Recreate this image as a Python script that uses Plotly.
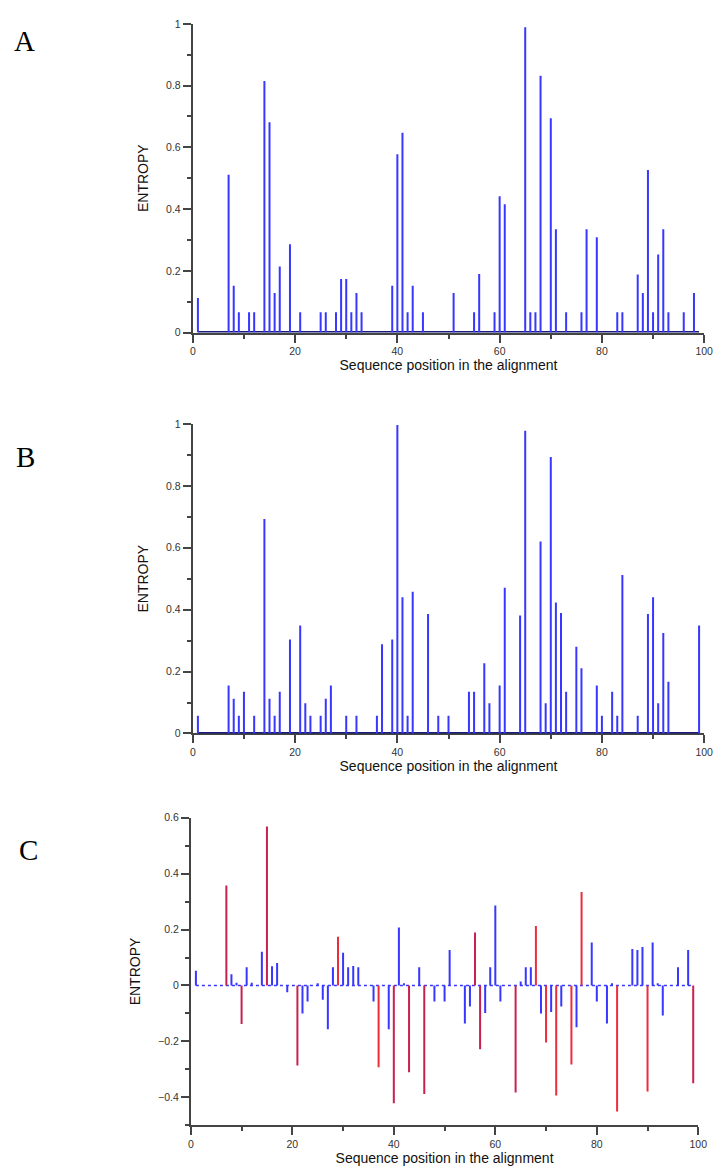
import plotly.graph_objects as go

# ---- Panel A: entropy per alignment position ----
pos_a = [1, 7, 8, 9, 11, 12, 14, 15, 16, 17, 19, 21, 25, 26, 28, 29, 30, 31, 32, 33,
         39, 40, 41, 42, 43, 45, 51, 55, 56, 59, 60, 61, 65, 66, 67, 68, 70, 71, 73,
         76, 77, 79, 83, 84, 87, 88, 89, 90, 91, 92, 93, 96, 98]
ent_a = [0.112, 0.511, 0.152, 0.066, 0.066, 0.066, 0.815, 0.681, 0.128, 0.214, 0.286,
         0.066, 0.066, 0.066, 0.066, 0.174, 0.174, 0.066, 0.128, 0.066,
         0.152, 0.578, 0.647, 0.066, 0.152, 0.066, 0.128, 0.066, 0.190, 0.066, 0.442,
         0.416, 0.989, 0.066, 0.066, 0.832, 0.694, 0.335, 0.066,
         0.066, 0.335, 0.309, 0.066, 0.066, 0.188, 0.128, 0.527, 0.066, 0.253, 0.335,
         0.066, 0.066, 0.128]

# ---- Panel B ----
pos_b = [1, 7, 8, 9, 10, 12, 14, 15, 16, 17, 19, 21, 22, 23, 25, 26, 27, 30, 32, 36,
         37, 39, 40, 41, 42, 43, 46, 48, 50, 54, 55, 57, 58, 60, 61, 64, 65, 68, 69,
         70, 71, 72, 73, 75, 76, 79, 80, 82, 83, 84, 87, 89, 90, 91, 92, 93, 99]
ent_b = [0.057, 0.155, 0.112, 0.057, 0.135, 0.057, 0.693, 0.112, 0.057, 0.135, 0.304,
         0.349, 0.098, 0.057, 0.057, 0.112, 0.155, 0.057, 0.057, 0.057,
         0.288, 0.304, 0.997, 0.440, 0.057, 0.458, 0.386, 0.057, 0.057, 0.135, 0.135,
         0.227, 0.098, 0.155, 0.471, 0.381, 0.978, 0.620, 0.098,
         0.893, 0.423, 0.389, 0.135, 0.280, 0.211, 0.155, 0.057, 0.135, 0.057, 0.512,
         0.057, 0.386, 0.440, 0.098, 0.325, 0.167, 0.349]

# ---- Panel C: entropy difference ----
pos_c = [1, 7, 8, 9, 10, 11, 12, 14, 15, 16, 17, 19, 21, 22, 23, 25, 26, 27, 28, 29,
         30, 31, 32, 33, 36, 37, 39, 40, 41, 42, 43, 45, 46, 48, 50, 51, 54, 55, 56,
         57, 58, 59, 60, 61, 64, 65, 66, 67, 68, 69, 70, 71, 72, 73, 75, 76, 77, 79,
         80, 82, 83, 84, 87, 88, 89, 90, 91, 92, 93, 96, 98, 99]
ent_c = [0.053, 0.357, 0.040, 0.010, -0.138, 0.065, 0.010, 0.121, 0.568, 0.069, 0.080,
         -0.024, -0.286, -0.100, -0.057, 0.008, -0.051, -0.156, 0.065, 0.174,
         0.117, 0.065, 0.070, 0.065, -0.057, -0.292, -0.156, -0.421, 0.207, 0.008,
         -0.310, 0.065, -0.388, -0.057, -0.057, 0.127, -0.136, -0.075, 0.189,
         -0.228, -0.098, 0.065, 0.286, -0.057, -0.382, 0.014, 0.065, 0.065, 0.213,
         -0.100, -0.204, -0.095, -0.393, -0.075, -0.282, -0.149, 0.334, 0.154,
         -0.057, -0.136, 0.008, -0.450, 0.130, 0.127, 0.138, -0.379, 0.154, 0.008,
         -0.107, 0.065, 0.127, -0.349]
# highlighted positions in panel C (two groups)
group1_c = [7, 10, 15, 21, 40, 43, 46, 56, 57, 64, 99]
group2_c = [29, 37, 68, 70, 72, 75, 77, 84, 90]

seq_first, seq_last = 1, 99

x_ticks = [0, 20, 40, 60, 80, 100]
y_ticks_ab = [0, 0.2, 0.4, 0.6, 0.8, 1]
y_ticks_c = [-0.4, -0.2, 0, 0.2, 0.4, 0.6]

BLUE = "#3737ff"
NAVY = "#1c1c7a"
CRIMSON = "#c8214f"
RED = "#ec2b3b"
AXIS = "#444444"
TICKFONT = dict(family="Liberation Sans", size=10.5, color="#333333")
TITLEFONT = dict(family="Liberation Sans", size=14, color="#111111")

W, H = 725, 1171


def stems(xs, ys):
    sx, sy = [], []
    for x, y in zip(xs, ys):
        sx += [x, x, None]
        sy += [0, y, None]
    return sx, sy


fig = go.Figure()

# baselines
for xa, ya in (("x", "y"), ("x2", "y2")):
    fig.add_trace(go.Scatter(x=[seq_first, seq_last], y=[0, 0], mode="lines",
                             line=dict(color=NAVY, width=3), xaxis=xa, yaxis=ya,
                             hoverinfo="skip", showlegend=False))
fig.add_trace(go.Scatter(x=[seq_first, seq_last], y=[0, 0], mode="lines",
                         line=dict(color=BLUE, width=1.5, dash="dot"),
                         xaxis="x3", yaxis="y3", hoverinfo="skip", showlegend=False))

sx, sy = stems(pos_a, ent_a)
fig.add_trace(go.Scatter(x=sx, y=sy, mode="lines", line=dict(color=BLUE, width=2),
                         xaxis="x", yaxis="y", showlegend=False))
sx, sy = stems(pos_b, ent_b)
fig.add_trace(go.Scatter(x=sx, y=sy, mode="lines", line=dict(color=BLUE, width=2),
                         xaxis="x2", yaxis="y2", showlegend=False))

groups = {"blue": ([], []), "g1": ([], []), "g2": ([], [])}
for p, v in zip(pos_c, ent_c):
    key = "g1" if p in group1_c else ("g2" if p in group2_c else "blue")
    groups[key][0].append(p)
    groups[key][1].append(v)
for key, col in (("blue", BLUE), ("g1", CRIMSON), ("g2", RED)):
    sx, sy = stems(*groups[key])
    fig.add_trace(go.Scatter(x=sx, y=sy, mode="lines", line=dict(color=col, width=2),
                             xaxis="x3", yaxis="y3", showlegend=False))


def xaxis_cfg(domain, anchor):
    return dict(domain=domain, anchor=anchor, range=[0, 100], tickvals=x_ticks,
                showline=True, linecolor=AXIS, linewidth=2, ticks="outside",
                ticklen=8, tickwidth=1.5, tickcolor=AXIS, tickfont=TICKFONT,
                showgrid=False, zeroline=False, layer="below traces",
                minor=dict(dtick=10, tick0=0, ticks="outside", ticklen=4,
                           tickwidth=1.5, tickcolor=AXIS, showgrid=False),
                title=dict(text="Sequence position in the alignment", font=TITLEFONT,
                           standoff=2))


def yaxis_cfg(domain, anchor, rng, tv):
    return dict(domain=domain, anchor=anchor, range=rng, tickvals=tv,
                showline=True, linecolor=AXIS, linewidth=2, ticks="outside",
                ticklen=8, tickwidth=1.5, tickcolor=AXIS, tickfont=TICKFONT,
                showgrid=False, zeroline=False, layer="below traces",
                minor=dict(dtick=0.1, tick0=0, ticks="outside", ticklen=4,
                           tickwidth=1.5, tickcolor=AXIS, showgrid=False),
                title=dict(text="ENTROPY", font=TITLEFONT, standoff=14))


xd_ab = [193 / W, 713 / W]
xd_c = [191 / W, 707 / W]
yd_a = [1 - 330 / H, 1 - 18 / H]
yd_b = [1 - 735 / H, 1 - 422.3 / H]
yd_c = [1 - 1131 / H, 1 - 820 / H]

fig.update_layout(
    width=W, height=H, margin=dict(l=0, r=0, t=0, b=0),
    paper_bgcolor="white", plot_bgcolor="white", showlegend=False,
    xaxis=xaxis_cfg(xd_ab, "y"),
    yaxis=yaxis_cfg(yd_a, "x", [0, 1], y_ticks_ab),
    xaxis2=xaxis_cfg(xd_ab, "y2"),
    yaxis2=yaxis_cfg(yd_b, "x2", [0, 1], y_ticks_ab),
    xaxis3=xaxis_cfg(xd_c, "y3"),
    yaxis3=yaxis_cfg(yd_c, "x3", [-0.5, 0.6], y_ticks_c),
)

for letter, cx, cy in (("A", 22, 35), ("B", 23, 456), ("C", 26, 853)):
    fig.add_annotation(text=letter, x=cx / W, y=1 - cy / H, xref="paper", yref="paper",
                       xanchor="center", yanchor="middle", showarrow=False,
                       font=dict(family="Liberation Serif", size=29, color="black"))

fig.write_html("out.html")
